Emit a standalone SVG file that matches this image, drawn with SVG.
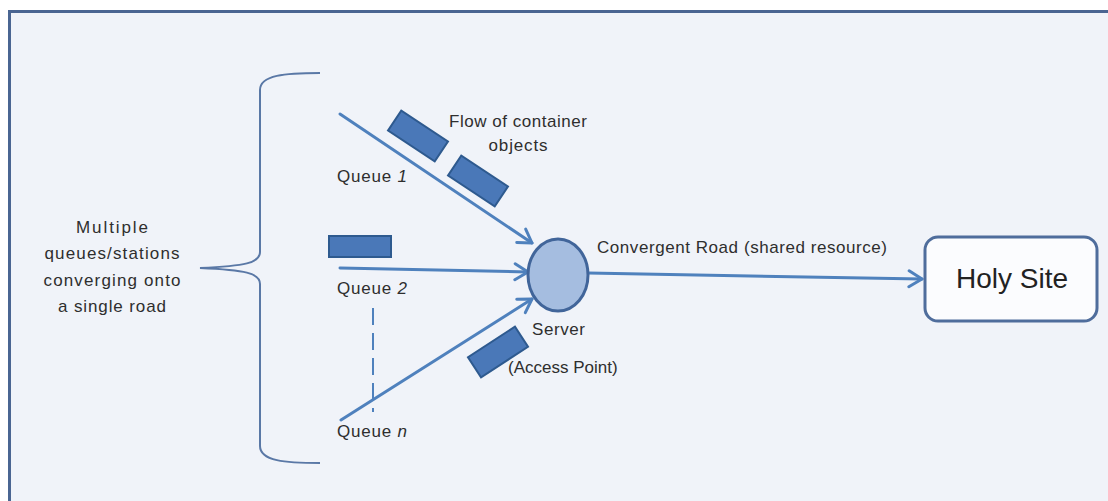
<svg xmlns="http://www.w3.org/2000/svg" width="1108" height="501" viewBox="0 0 1108 501">
<defs>
<style>
.t{font-family:"Liberation Sans",Arial,sans-serif;fill:#2e2e2e;font-size:17px}
.ln{stroke:#4f81bd;stroke-width:3;fill:none;stroke-linecap:round}
.box{fill:#4a78b8;stroke:#2e5a8f;stroke-width:2}
</style>
<marker id="ah" markerUnits="userSpaceOnUse" markerWidth="20" markerHeight="20" viewBox="0 0 20 20" refX="17" refY="10" orient="auto">
<path d="M4,2 L17,10 L4,18" fill="none" stroke="#4f81bd" stroke-width="3" stroke-linecap="round" stroke-linejoin="round"/>
</marker>
</defs>
<rect width="1108" height="501" fill="#ffffff"/>
<rect x="9.5" y="11.5" width="1110" height="500" fill="#f0f3f9" stroke="#4a6592" stroke-width="3"/>

<g id="brace">
<path d="M320,73 C285,73 260,75 260,90 L260,252 C260,263 245,266 200,268 C245,270 260,273 260,284 L260,446 C260,461 285,463 320,463" fill="none" stroke="#5a78a6" stroke-width="2"/>
</g>
<g id="label-multiple">
<text class="t" text-anchor="middle" x="112" y="233" textLength="72">Multiple</text>
<text class="t" text-anchor="middle" x="112" y="259" textLength="135">queues/stations</text>
<text class="t" text-anchor="middle" x="112" y="286" textLength="137">converging onto</text>
<text class="t" text-anchor="middle" x="112" y="312" textLength="108">a single road</text>
</g>

<g id="connectors">
<line class="ln" x1="340" y1="114" x2="532" y2="243" marker-end="url(#ah)"/>
<line class="ln" x1="340" y1="268" x2="528" y2="272" marker-end="url(#ah)"/>
<line class="ln" x1="341" y1="420" x2="532" y2="299" marker-end="url(#ah)"/>
<line class="ln" x1="588" y1="273" x2="922" y2="279" marker-end="url(#ah)"/>
<line x1="373" y1="308" x2="373" y2="412" stroke="#4f81bd" stroke-width="2" stroke-dasharray="17,8"/>
</g>

<g id="containers">
<rect class="box" x="-28" y="-12" width="56" height="24" transform="translate(418,136) rotate(33.5)"/>
<rect class="box" x="-28" y="-12" width="56" height="24" transform="translate(478,181) rotate(33.5)"/>
<rect class="box" x="329" y="236" width="62" height="21"/>
<rect class="box" x="-28" y="-12" width="56" height="24" transform="translate(498,352) rotate(-33)"/>
</g>
<g id="label-flow">
<text class="t" text-anchor="middle" x="518" y="127" textLength="138">Flow of container</text>
<text class="t" text-anchor="middle" x="518" y="151" textLength="59">objects</text>
</g>

<g id="queue1"><text class="t" x="337" y="182" textLength="70">Queue <tspan font-style="italic">1</tspan></text></g>
<g id="queue2"><text class="t" x="337" y="294" textLength="70">Queue <tspan font-style="italic">2</tspan></text></g>
<g id="queuen"><text class="t" x="337" y="437" textLength="70">Queue <tspan font-style="italic">n</tspan></text></g>

<g id="server">
<ellipse cx="558" cy="275" rx="30" ry="36" fill="#a5bde0" stroke="#41659a" stroke-width="3"/>
<text class="t" x="532" y="335" textLength="53">Server</text>
<text class="t" x="508" y="373">(Access Point)</text>
</g>

<g id="road-label"><text class="t" x="597" y="253" textLength="290">Convergent Road (shared resource)</text></g>

<g id="holy-site">
<rect x="925" y="237" width="172" height="84" rx="13" fill="#fbfcfe" stroke="#4f6d9c" stroke-width="3"/>
<text class="t" x="1012" y="288" text-anchor="middle" style="font-size:28px;fill:#222">Holy Site</text>
</g>
</svg>
